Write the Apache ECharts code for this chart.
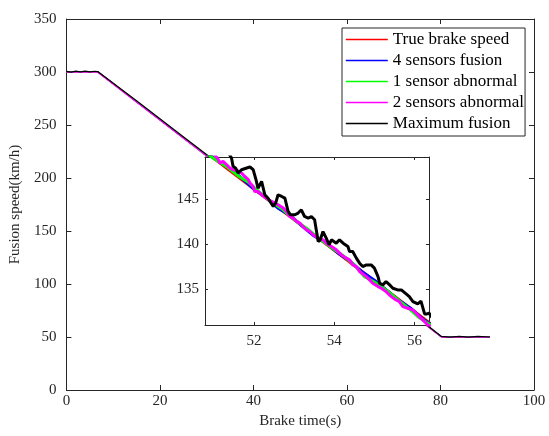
<!DOCTYPE html>
<html>
<head>
<meta charset="utf-8">
<script src="https://cdn.jsdelivr.net/npm/echarts@6/dist/echarts.min.js"></script>
<style>html,body{margin:0;padding:0;background:#fff;}#c{width:549px;height:436px;}</style>
</head>
<body>
<div id="c"></div>
<script>
// ---- data ----
const seriesNames = ['True brake speed', '4 sensors fusion', '1 sensor abnormal', '2 sensors abnormal', 'Maximum fusion'];
const seriesColors = ['#ff0000', '#0000ff', '#00ff00', '#ff00ff', '#000000'];
const mainXTicks = [0, 20, 40, 60, 80, 100];
const mainYTicks = [0, 50, 100, 150, 200, 250, 300, 350];
const insetXTicks = [52, 54, 56];
const insetYTicks = [135, 140, 145];

const trueSpeed = [[0,300.2],[6.7,300.2],[80.2,50.2],[90.6,50.2]];

const fusion4 = [[0,300.3],[6.7,300.3],[50.6,150.9],[50.9,149.85],[51.2,148.95],[51.45,148.25],[51.7,147.3],[52.0,146.1],[52.3,145.2],[52.6,144.0],[52.9,143.2],[53.2,142.0],[53.5,140.9],[53.8,140.1],[54.1,139.0],[54.4,138.1],[54.7,136.9],[55.0,136.0],[55.3,134.9],[55.6,133.8],[55.9,132.9],[56.2,131.7],[56.5,130.8],[80.2,50.3],[90.6,50.3]];

const abnormal1 = [[0,300.1],[6.7,300.1],[50.6,150.8],[50.9,149.8],[51.1,149.2],[51.35,148.5],[51.6,147.6],[51.85,146.9],[52.1,145.9],[52.4,144.8],[52.7,143.9],[53.0,142.7],[53.3,141.8],[53.6,140.7],[53.9,139.7],[54.2,138.8],[54.5,137.7],[54.75,136.4],[55.0,135.8],[55.3,134.9],[55.6,133.8],[55.9,132.7],[56.1,131.9],[56.3,131.3],[56.5,130.8],[80.2,50.1],[90.6,50.1]];

const abnormal2 = [[0,299.8],[6.7,299.8],[50.6,150.8],[50.99,150.1],[51.11,149.37],[51.15,149.0],[51.23,149.18],[51.32,148.81],[51.40,148.45],[51.48,148.26],[51.57,148.18],[51.69,147.89],[51.77,147.51],[51.86,147.15],[51.90,146.78],[51.98,146.4],[52.02,145.85],[52.10,145.85],[52.19,145.48],[52.31,145.1],[52.44,144.74],[52.60,144.37],[52.73,144.0],[52.81,143.63],[52.89,143.07],[52.97,142.89],[53.06,142.52],[53.14,142.34],[53.22,141.96],[53.31,141.59],[53.39,141.4],[53.47,141.04],[53.60,140.67],[53.72,140.48],[53.80,140.11],[53.93,139.74],[54.05,139.37],[54.18,138.81],[54.30,138.45],[54.38,138.26],[54.46,137.7],[54.55,137.51],[54.63,136.96],[54.80,136.4],[54.88,136.04],[54.96,135.67],[55.09,135.29],[55.17,135.11],[55.29,134.74],[55.42,134.18],[55.54,133.81],[55.62,133.63],[55.71,133.07],[55.83,132.89],[55.95,132.70],[56.04,132.34],[56.12,131.96],[56.25,131.40],[56.33,131.03],[56.5,130.6],[80.2,49.9],[90.6,49.9]];

const maxFusion = [[0,300.6],[1,299.9],[2,300.8],[3,300.1],[4,300.9],[5,300.2],[6,300.7],[6.7,300.4],[15,272.8],[25,238.9],[35,205.1],[45,171.2],[50.6,152.4],[51.0,151.4],[51.3,150.6],[51.44,149.56],[51.48,148.63],[51.54,148.45],[51.61,147.89],[51.69,148.26],[51.82,148.45],[51.90,148.56],[51.98,148.26],[52.05,147.15],[52.10,146.2],[52.19,146.96],[52.23,146.78],[52.27,145.48],[52.35,145.1],[52.48,144.18],[52.54,144.56],[52.60,145.48],[52.69,145.29],[52.77,145.1],[52.85,143.63],[52.91,143.26],[53.02,143.26],[53.10,143.45],[53.18,143.81],[53.26,143.07],[53.35,142.89],[53.43,143.07],[53.51,142.7],[53.60,140.29],[53.65,140.48],[53.72,141.40],[53.80,140.67],[53.87,139.93],[53.93,140.48],[54.05,140.11],[54.13,140.48],[54.22,140.11],[54.34,139.74],[54.38,139.18],[54.46,139.18],[54.55,138.45],[54.63,137.89],[54.71,137.51],[54.80,137.7],[54.92,137.7],[55.00,137.34],[55.09,136.4],[55.13,135.67],[55.21,135.48],[55.29,135.85],[55.38,135.48],[55.46,135.11],[55.58,134.92],[55.67,134.92],[55.79,134.48],[55.87,134.18],[55.96,133.63],[56.08,133.37],[56.16,133.67],[56.25,132.26],[56.31,132.26],[56.36,132.34],[56.5,131.5],[65,102.9],[75,68.6],[80.2,50.5],[82,49.8],[84,50.6],[86,49.9],[88,50.5],[90.6,50.0]];

const allData = [trueSpeed, fusion4, abnormal1, abnormal2, maxFusion];

// ---- chart ----
const FONT = 'Liberation Serif';
const AX = '#262626';
const chart = echarts.init(document.getElementById('c'), null, {renderer: 'canvas'});

const series = [];
allData.forEach((d, i) => {
  series.push({
    name: seriesNames[i], type: 'line', data: d, xAxisIndex: 0, yAxisIndex: 0,
    symbol: 'none', showSymbol: false, animation: false, z: 2,
    lineStyle: {color: seriesColors[i], width: 1.2}, itemStyle: {color: seriesColors[i]}
  });
});
allData.forEach((d, i) => {
  series.push({
    name: seriesNames[i], type: 'line', data: d, xAxisIndex: 2, yAxisIndex: 2,
    symbol: 'none', showSymbol: false, animation: false, z: 12, clip: true,
    lineStyle: {color: seriesColors[i], width: 3}, itemStyle: {color: seriesColors[i]}
  });
});

const legendItems = seriesNames.map((n, i) => ({
  name: n,
  itemStyle: {opacity: 0},
  lineStyle: {color: seriesColors[i], width: 1.6, opacity: 1}
}));

const labelStyle = {fontFamily: FONT, fontSize: 15, color: AX};

chart.setOption({
  animation: false,
  backgroundColor: '#fff',
  grid: [
    {left: 66, top: 19, width: 468, height: 371, containLabel: false},
    {left: 205, top: 157, width: 224, height: 168, show: true, backgroundColor: '#fff', borderWidth: 0, z: 10}
  ],
  legend: {
    data: legendItems, orient: 'vertical', left: 342, top: 28,
    itemWidth: 42, itemHeight: 12, itemGap: 4,
    padding: [3, 1, 4, 3], borderColor: AX, borderWidth: 1, backgroundColor: '#fff',
    textStyle: {fontFamily: FONT, fontSize: 17, color: '#000'}, z: 20
  },
  xAxis: [
    {type: 'value', gridIndex: 0, position: 'bottom', min: 0, max: 100, interval: 20,
     axisLine: {show: true, onZero: false, lineStyle: {color: AX, width: 1}},
     axisTick: {show: true, inside: true, length: 5, lineStyle: {color: AX}},
     axisLabel: Object.assign({margin: 4, customValues: mainXTicks}, labelStyle),
     splitLine: {show: false},
     name: 'Brake time(s)', nameLocation: 'middle', nameGap: 21,
     nameTextStyle: {fontFamily: FONT, fontSize: 15, color: AX}},
    {type: 'value', gridIndex: 0, position: 'top', min: 0, max: 100, interval: 20,
     axisLine: {show: true, onZero: false, lineStyle: {color: AX, width: 1}},
     axisTick: {show: true, inside: true, length: 5, lineStyle: {color: AX}},
     axisLabel: {show: false}, splitLine: {show: false}},
    {type: 'value', gridIndex: 1, position: 'bottom', min: 50.78, max: 56.36, z: 11,
     axisLine: {show: true, onZero: false, lineStyle: {color: AX, width: 1}},
     axisTick: {show: true, inside: true, length: 3, customValues: insetXTicks, lineStyle: {color: AX}},
     axisLabel: Object.assign({margin: 9, customValues: insetXTicks}, labelStyle),
     splitLine: {show: false}},
    {type: 'value', gridIndex: 1, position: 'top', min: 50.78, max: 56.36, z: 11,
     axisLine: {show: true, onZero: false, lineStyle: {color: AX, width: 1}},
     axisTick: {show: true, inside: true, length: 3, customValues: insetXTicks, lineStyle: {color: AX}},
     axisLabel: {show: false}, splitLine: {show: false}}
  ],
  yAxis: [
    {type: 'value', gridIndex: 0, position: 'left', min: 0, max: 350, interval: 50,
     axisLine: {show: true, onZero: false, lineStyle: {color: AX, width: 1}},
     axisTick: {show: true, inside: true, length: 5, lineStyle: {color: AX}},
     axisLabel: Object.assign({margin: 10, customValues: mainYTicks}, labelStyle),
     splitLine: {show: false},
     name: 'Fusion speed(km/h)', nameLocation: 'middle', nameGap: 38,
     nameTextStyle: {fontFamily: FONT, fontSize: 15, color: AX}},
    {type: 'value', gridIndex: 0, position: 'right', min: 0, max: 350, interval: 50,
     axisLine: {show: true, onZero: false, lineStyle: {color: AX, width: 1}},
     axisTick: {show: true, inside: true, length: 5, lineStyle: {color: AX}},
     axisLabel: {show: false}, splitLine: {show: false}},
    {type: 'value', gridIndex: 1, position: 'left', min: 131.03, max: 149.67, z: 11,
     axisLine: {show: true, onZero: false, lineStyle: {color: AX, width: 1}},
     axisTick: {show: true, inside: true, length: 3, customValues: insetYTicks, lineStyle: {color: AX}},
     axisLabel: Object.assign({margin: 6, customValues: insetYTicks}, labelStyle),
     splitLine: {show: false}},
    {type: 'value', gridIndex: 1, position: 'right', min: 131.03, max: 149.67, z: 11,
     axisLine: {show: true, onZero: false, lineStyle: {color: AX, width: 1}},
     axisTick: {show: true, inside: true, length: 3, customValues: insetYTicks, lineStyle: {color: AX}},
     axisLabel: {show: false}, splitLine: {show: false}}
  ],
  series: series
});
</script>
</body>
</html>
